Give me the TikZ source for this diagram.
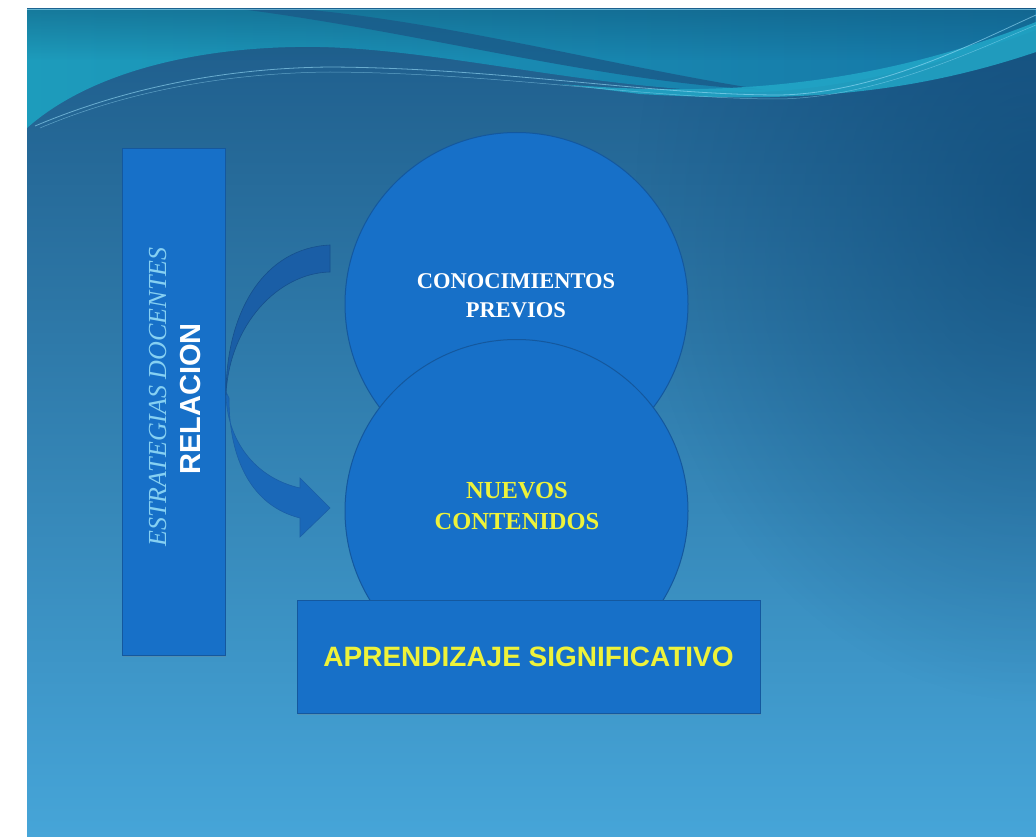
\documentclass[tikz,border=0pt]{standalone}
\usepackage{fontspec}
\setmainfont{Liberation Serif}
\setsansfont{Liberation Sans}
\usetikzlibrary{shadows,fadings}
\definecolor{bgtop}{HTML}{1E5C8A}
\definecolor{bgmid}{HTML}{2F7EB0}
\definecolor{bgbot}{HTML}{46A5D8}
\definecolor{tealL}{HTML}{1D9CBC}
\definecolor{tealR}{HTML}{1576A6}
\definecolor{swoosh}{HTML}{1A5C8A}
\definecolor{cyanband}{HTML}{22A8C8}
\definecolor{boxfill}{HTML}{1770C8}
\definecolor{boxline}{HTML}{14589E}
\definecolor{arrowfill}{HTML}{1A68B8}
\definecolor{arrowdark}{HTML}{1A5EA6}
\definecolor{txtyellow}{HTML}{EEF23A}
\definecolor{txtcyan}{HTML}{86D0F2}
\definecolor{cornerdark}{HTML}{0C4674}
\tikzfading[name=softrad, inner color=transparent!15, outer color=transparent!100]
\tikzset{
  box/.style={draw=boxline, line width=1pt, fill=boxfill, inner sep=0pt},
  circ/.style={circle, draw=boxline, line width=1pt, fill=boxfill, inner sep=0pt},
  serifbold/.style={font=\bfseries\fontsize{22.5}{29}\selectfont, align=center},
}
\begin{document}
\begin{tikzpicture}[x=1pt,y=-1pt]
\useasboundingbox (0,0) rectangle (1036,837);
\fill[white] (0,0) rectangle (1036,837);
% slide background
\shade[top color=bgtop, middle color=bgmid, bottom color=bgbot] (27,9) rectangle (1036,837);
% darker right top corner
\begin{scope}
  \clip (27,9) rectangle (1036,837);
  \fill[cornerdark, path fading=softrad, opacity=0.75] (636,-300) rectangle (1436,700);
\end{scope}
% teal top region
\shade[left color=tealL, right color=tealR]
  (27,9) -- (1036,9) -- (1036,30)
  .. controls (950,62) and (850,88) .. (760,92)
  .. controls (600,92) and (450,50) .. (320,47)
  .. controls (200,45) and (90,72) .. (27,128) -- cycle;
\fill[tealR!75!black, path fading=south, opacity=0.5] (27,9) rectangle (1036,60);
% dark swoosh
\fill[swoosh, opacity=0.85]
  (240,9) -- (300,9)
  .. controls (450,22) and (620,68) .. (765,90)
  .. controls (600,82) and (420,32) .. (240,9) -- cycle;
% cyan band right
\fill[cyanband, opacity=0.85]
  (560,84) .. controls (700,96) and (860,92) .. (1036,22)
  -- (1036,52) .. controls (900,98) and (780,102) .. (640,94) -- cycle;
% thin light lines
\draw[white!60!cyan, line width=0.8pt, opacity=0.6]
  (35,126) .. controls (130,86) and (230,68) .. (330,67)
  .. controls (500,68) and (650,95) .. (780,95)
  .. controls (880,93) and (980,40) .. (1036,15);
\draw[white!60!cyan, line width=0.5pt, opacity=0.5]
  (40,128) .. controls (130,90) and (230,73) .. (330,72)
  .. controls (500,73) and (650,99) .. (780,99)
  .. controls (880,97) and (980,48) .. (1036,25);
\draw[cyan!40!white, line width=0.6pt, opacity=0.6] (27,9.3) -- (1036,9.3);

% left box
\node[box, minimum width=103pt, minimum height=506pt,
      drop shadow={opacity=0.3, shadow xshift=1pt, shadow yshift=-2pt}] (strat) at (173.5,402) {};
\node[rotate=90, anchor=base, text=txtcyan, font=\itshape\fontsize{26}{30}\selectfont, inner sep=0pt]
  (stratTxt) at (166,397) {ESTRATEGIAS DOCENTES};
\node[rotate=90, anchor=base, text=white, font=\sffamily\bfseries\fontsize{29}{34}\selectfont, inner sep=0pt]
  (relTxt) at (200,399) {RELACION};

% circles
\node[circ, minimum size=343pt] (prev) at (516.5,304) {};
\node[serifbold, text=white] (prevTxt) at (516,296) {CONOCIMIENTOS\\PREVIOS};
\node[circ, minimum size=343pt] (nuevos) at (516.5,511) {};
\node[serifbold, text=txtyellow, font=\bfseries\fontsize{24.5}{31}\selectfont] (nuevosTxt) at (517,506) {NUEVOS\\CONTENIDOS};

% bottom box
\node[box, minimum width=463pt, minimum height=113pt,
      drop shadow={opacity=0.3, shadow xshift=1pt, shadow yshift=-2pt}] (apr) at (528.5,656.5)
  {\color{txtyellow}\sffamily\bfseries\fontsize{28}{34}\selectfont APRENDIZAJE SIGNIFICATIVO};

% curved arrow
\fill[arrowfill, draw=arrowdark, line width=0.6pt]
  (226,392) .. controls (226,440) and (255,478) .. (300,488)
  -- (300,478) -- (330,508) -- (300,537) -- (300,518)
  .. controls (252,506) and (229,460) .. (229,398) -- cycle;
\fill[arrowdark, draw=arrowdark!85!black, line width=0.6pt]
  (330,245) .. controls (265,248) and (226,310) .. (226,395)
  .. controls (229,325) and (278,273) .. (330,272) -- cycle;
\end{tikzpicture}
\end{document}
